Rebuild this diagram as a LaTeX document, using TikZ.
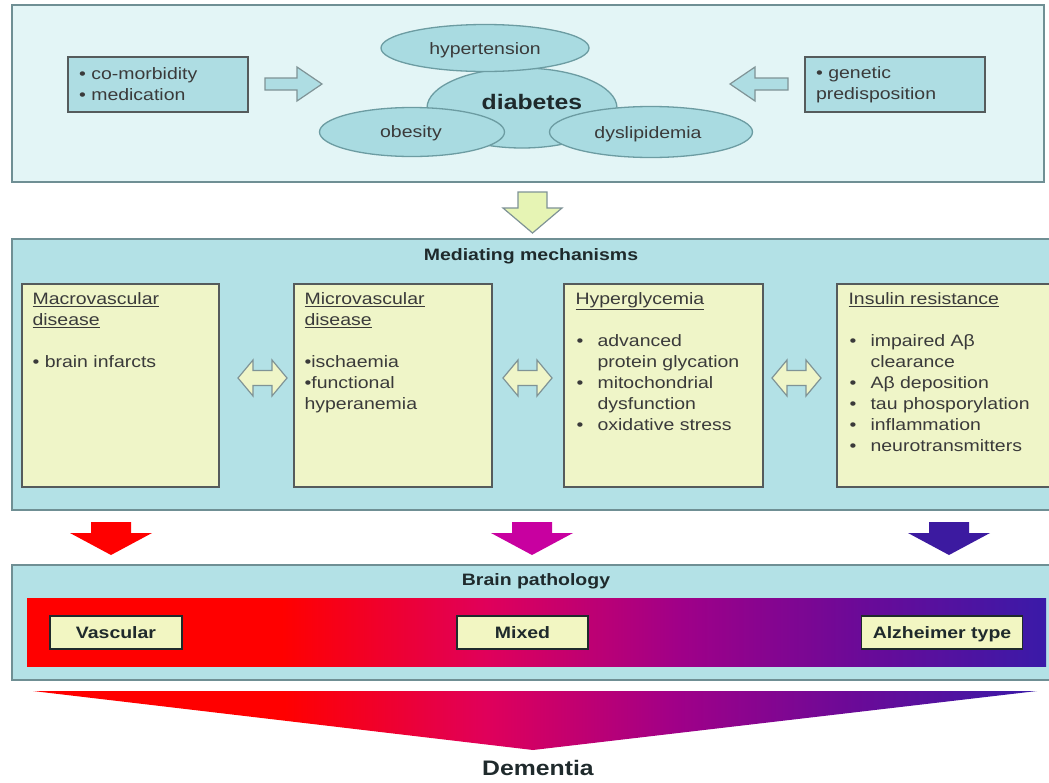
\documentclass[tikz,border=0pt]{standalone}
\usepackage{fontspec}
\setmainfont{Liberation Sans}[FakeStretch=1.18]
\usetikzlibrary{shapes.geometric}

\definecolor{palecyan}{HTML}{E3F5F6}
\definecolor{panelcyan}{HTML}{B3E1E6}
\definecolor{boxcyan}{HTML}{AEDDE3}
\definecolor{ellcyan}{HTML}{A9DBE1}
\definecolor{mechyellow}{HTML}{EFF5C8}
\definecolor{typeyellow}{HTML}{F2F6C2}
\definecolor{downgreen}{HTML}{E6F4B4}
\definecolor{frameedge}{HTML}{6F8F94}
\definecolor{boxedge}{HTML}{555B5C}
\definecolor{elledge}{HTML}{6C9CA2}
\definecolor{arrowedge}{HTML}{7F9396}
\definecolor{ink}{HTML}{3A3A3A}
\definecolor{headink}{HTML}{1F2A2C}
\definecolor{patred}{HTML}{FF0000}
\definecolor{patcrim}{HTML}{E0005A}
\definecolor{patmag}{HTML}{A00088}
\definecolor{patvio}{HTML}{6A0A98}
\definecolor{patpur}{HTML}{3A1AA8}
\definecolor{arrmag}{HTML}{C800A0}
\definecolor{arrpur}{HTML}{3C1AA0}

\pgfdeclarehorizontalshading{pathology}{100bp}{color(0bp)=(patred); color(25bp)=(patred); color(37.5bp)=(patred); color(47.5bp)=(patcrim); color(57bp)=(patmag); color(66bp)=(patvio); color(75bp)=(patpur); color(100bp)=(patpur)}

\newcommand\txtsize{\fontsize{16.5}{21}\selectfont}
\newcommand\bul[1]{\makebox[22pt][l]{\hspace{1pt}•}#1}
\newcommand\cont[1]{\hspace*{22pt}#1}

\begin{document}
\begin{tikzpicture}[x=1pt,y=-1pt,
  panel/.style={draw=frameedge,line width=1.6pt,inner sep=0},
  riskbox/.style={draw=boxedge,fill=boxcyan,line width=1.3pt,minimum height=55,text width=158,inner xsep=11,inner ysep=0,align=left,font=\txtsize,text=ink},
  factor/.style={ellipse,draw=elledge,fill=ellcyan,line width=1.3pt,inner sep=0},
  label/.style={font=\txtsize,text=ink,inner sep=0},
  heading/.style={font=\txtsize\bfseries,text=headink,inner sep=0},
  mechbox/.style={draw=boxedge,fill=mechyellow,line width=1.3pt,minimum height=203,inner sep=0},
  mechtext/.style={anchor=north west,align=left,inner sep=0,font=\txtsize,text=ink},
  typebox/.style={draw=headink,fill=typeyellow,line width=1.5pt,minimum height=33,inner sep=0,text height=12.5,text depth=0.7,font=\txtsize\bfseries,text=headink},
  sidearrow/.style={draw=arrowedge,fill=boxcyan,line width=1.2pt},
  dblarrow/.style={draw=arrowedge,fill=mechyellow,line width=1.2pt},
  downarrow/.style={draw=arrowedge,fill=downgreen,line width=1.2pt}]

\useasboundingbox[fill=white] (0,0) rectangle (1049,782);

% risk factors
\node[panel,fill=palecyan,minimum width=1032,minimum height=177] (risk) at (528,93.5) {};

\node[riskbox] (comorb) at (158,84.5) {• co-morbidity\\• medication};
\node[riskbox] (genetic) at (895,84.5) {• genetic\\predisposition};

\node[factor,minimum width=190,minimum height=80] (diab) at (522,108) {};
\node[factor,minimum width=208,minimum height=47] (hyper) at (485,48) {};
\node[factor,minimum width=185,minimum height=49] (obes) at (412,132) {};
\node[factor,minimum width=203,minimum height=51] (dysl) at (651,132) {};

\node[font=\fontsize{21}{24}\selectfont\bfseries,text=headink,inner sep=0] (diabtxt) at (532,102) {diabetes};
\node[label,text height=12,text depth=3.5] (hypertxt) at (485,50) {hypertension};
\node[label] (obestxt) at (411,133) {obesity};
\node[label,text height=12,text depth=3.5] (dysltxt) at (648,134) {dyslipidemia};

\draw[sidearrow] (265,78) -- (297,78) -- (297,67) -- (322,84) -- (297,101) -- (297,90) -- (265,90) -- cycle;
\draw[sidearrow] (788,78) -- (755,78) -- (755,67) -- (730,84) -- (755,101) -- (755,90) -- (788,90) -- cycle;

\draw[downarrow] (518,192) -- (547,192) -- (547,208) -- (562,208) -- (532.5,233) -- (503,208) -- (518,208) -- cycle;

% mediating mechanisms
\node[panel,fill=panelcyan,minimum width=1044,minimum height=271] (mech) at (534,374.5) {};
\node[heading] (mechtitle) at (531,256) {Mediating mechanisms};

\node[mechbox,minimum width=197] (macro) at (120.5,385.5) {};
\node[mechbox,minimum width=198] (micro) at (393,385.5) {};
\node[mechbox,minimum width=199] (hypgly) at (663.5,385.5) {};
\node[mechbox,minimum width=220] (insulin) at (947,385.5) {};

\node[mechtext] (macrotxt) at ([shift={(11,9)}]macro.north west)
  {\underline{Macrovascular}\\\underline{disease}\\[21pt]• brain infarcts};
\node[mechtext] (microtxt) at ([shift={(11,9)}]micro.north west)
  {\underline{Microvascular}\\\underline{disease}\\[21pt]•ischaemia\\•functional\\hyperanemia};
\node[mechtext] (hypglytxt) at ([shift={(12,9)}]hypgly.north west)
  {\underline{Hyperglycemia}\\[21pt]\bul{advanced}\\\cont{protein glycation}\\\bul{mitochondrial}\\\cont{dysfunction}\\\bul{oxidative stress}};
\node[mechtext] (insulintxt) at ([shift={(12,9)}]insulin.north west)
  {\underline{Insulin resistance}\\[21pt]\bul{impaired Aβ}\\\cont{clearance}\\\bul{Aβ deposition}\\\bul{tau phosporylation}\\\bul{inflammation}\\\bul{neurotransmitters}};

\foreach \cx in {262.5,527.5,796.5}
  \draw[dblarrow] ({\cx-24.5},378) -- ({\cx-9.5},360) -- ({\cx-9.5},370.5) -- ({\cx+9.5},370.5)
    -- ({\cx+9.5},360) -- ({\cx+24.5},378) -- ({\cx+9.5},396) -- ({\cx+9.5},385.5)
    -- ({\cx-9.5},385.5) -- ({\cx-9.5},396) -- cycle;

\foreach \cx/\col in {111/patred,532/arrmag,949/arrpur}
  \fill[\col] ({\cx-20},522) -- ({\cx+20},522) -- ({\cx+20},533) -- ({\cx+41},533)
    -- (\cx,555) -- ({\cx-41},533) -- ({\cx-20},533) -- cycle;

% brain pathology
\node[panel,fill=panelcyan,minimum width=1044,minimum height=115] (brain) at (534,622.5) {};
\node[heading] (braintitle) at (536,581) {Brain pathology};

\shade[shading=pathology] (27,598) rectangle (1046,666);

\node[typebox,minimum width=132] (vasc) at (116,632.5) {Vascular};
\node[typebox,minimum width=131] (mixed) at (522.5,632.5) {Mixed};
\node[typebox,minimum width=161] (alz) at (942,632.5) {Alzheimer type};

% dementia
\shade[shading=pathology] (33,691) -- (1037,691) -- (533,750) -- cycle;
\node[font=\fontsize{21}{24}\selectfont\bfseries,text=headink,inner sep=0] (dementia) at (538,768) {Dementia};

\end{tikzpicture}
\end{document}
